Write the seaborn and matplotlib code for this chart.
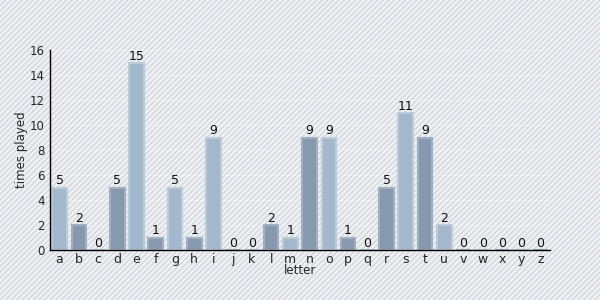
import matplotlib
matplotlib.use("Agg")
import matplotlib.pyplot as plt
import seaborn as sns
import pandas as pd
from matplotlib.patches import Rectangle

letters = list("abcdefghijklmnopqrstuvwxyz")
times_played = [5, 2, 0, 5, 15, 1, 5, 1, 9, 0, 0, 2, 1, 9, 9, 1, 0, 5, 11, 9, 2, 0, 0, 0, 0, 0]
yticks = [0, 2, 4, 6, 8, 10, 12, 14, 16]

light = "#a3b8cc"
dark = "#8799ae"
light_edge = "#bccbda"
dark_edge = "#a0b0c2"

sns.set_style("white")
plt.rcParams['font.family'] = ['DejaVu Sans']
plt.rcParams['hatch.linewidth'] = 0.8

df = pd.DataFrame({"letter": letters, "times played": times_played})
colors = [light if i % 2 == 0 else dark for i in range(len(letters))]
edges = [light_edge if i % 2 == 0 else dark_edge for i in range(len(letters))]

fig = plt.figure(figsize=(6, 3), dpi=100)
fig.patch.set_facecolor("#eef0f2")
bg = Rectangle((0, 0), 1, 1, transform=fig.transFigure, facecolor="#eef0f2",
               edgecolor="#cdd2d7", hatch="//////", linewidth=0, zorder=-10)
fig.patches.append(bg)

ax = fig.add_axes([50/600, 50/300, 500/600, 200/300])
ax.set_facecolor("none")

sns.barplot(data=df, x="letter", y="times played", hue="letter", palette=colors,
            legend=False, width=0.76, ax=ax, saturation=1)
for p, ec in zip(ax.patches, edges):
    p.set_edgecolor(ec)
    p.set_linewidth(1.5)
    p.set_clip_on(False)

for c in ax.containers:
    ax.bar_label(c, padding=0, fontsize=9, color="#111111")

ax.set_ylim(0, 16)
ax.set_yticks(yticks)
ax.set_xlim(-0.5, len(letters) - 0.5)
for y in yticks[1:]:
    ax.axhline(y, color="white", lw=0.8, alpha=0.35, zorder=0)

for s in ["top", "right"]:
    ax.spines[s].set_visible(False)
for s in ["left", "bottom"]:
    ax.spines[s].set_color("black")
    ax.spines[s].set_linewidth(1)

ax.tick_params(axis="both", labelsize=8.5, length=3, width=0.8, color="black", pad=1, direction="out")
ax.tick_params(axis="x", labelsize=9, length=2, pad=0)
ax.set_xlabel("letter", fontsize=8.5, labelpad=-1)
ax.set_ylabel("times played", fontsize=8.5)
ax.yaxis.set_label_coords(-0.043, 0.5)

fig.savefig("out.png", dpi=100, facecolor=fig.get_facecolor())
